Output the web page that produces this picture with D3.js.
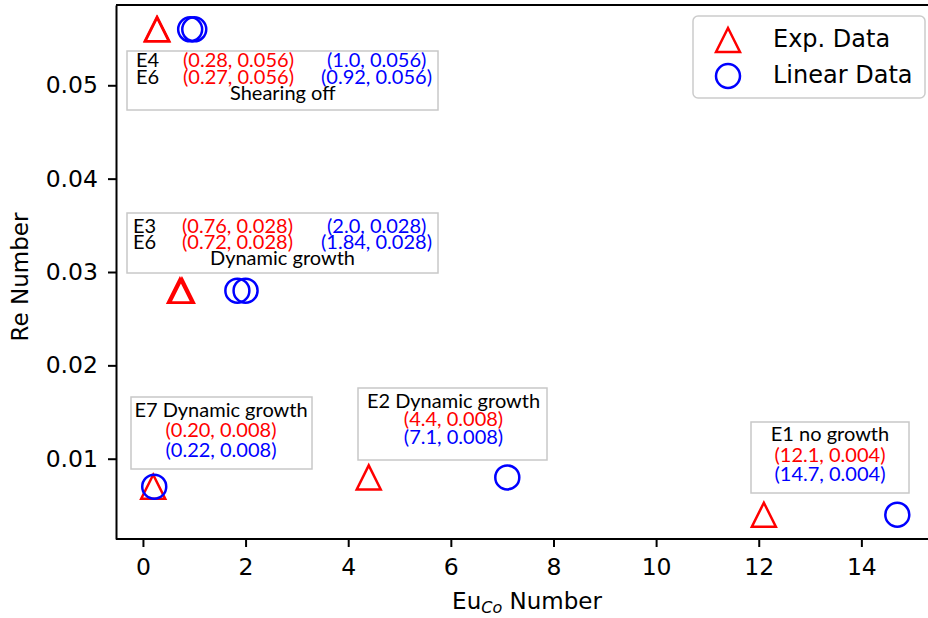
<!DOCTYPE html>
<html>
<head>
<meta charset="utf-8">
<script src="https://cdn.jsdelivr.net/npm/d3@7"></script>
<style>
  body { margin: 0; background: #fff; }
  svg { display: block; }
  .axis text { font-family: "DejaVu Sans", sans-serif; font-size: 23.5px; fill: #000; }
  .axis path, .axis line { stroke: #000; stroke-width: 2; }
  .note { font-family: Lato, "Open Sans", sans-serif; font-size: 20px; }
</style>
</head>
<body>
<svg id="chart" width="928" height="618"></svg>
<script>
// Data
const runs = ['E4', 'E6', 'E3', 'E6b', 'E7', 'E2', 'E1']
const expX = [0.28, 0.27, 0.76, 0.72, 0.20, 4.4, 12.1]
const expY = [0.056, 0.056, 0.028, 0.028, 0.007, 0.008, 0.004]
const linX = [1.0, 0.92, 2.0, 1.84, 0.22, 7.1, 14.7]
const linY = [0.056, 0.056, 0.028, 0.028, 0.007, 0.008, 0.004]
const xTicks = [0, 2, 4, 6, 8, 10, 12, 14]
const yTicks = [0.01, 0.02, 0.03, 0.04, 0.05]
const seriesNames = ['Exp. Data', 'Linear Data']

const red = '#ff0000'
const blue = '#0000ff'

const svg = d3.select('#chart')

// matplotlib-like 5% margins, right edge falls past the picture
const x = d3.scaleLinear().domain([-0.525, 15.425]).range([116, 934.5])
const y = d3.scaleLinear().domain([0.0014, 0.0586]).range([539, 5])

// frame
svg.append('line').attr('x1', 116).attr('x2', 928).attr('y1', 5).attr('y2', 5)
    .attr('stroke', '#000').attr('stroke-width', 2)

const xAxis = svg.append('g')
    .attr('class', 'axis')
    .attr('transform', 'translate(0,539)')
    .call(d3.axisBottom(x).tickValues(xTicks).tickFormat(d3.format('d')).tickSize(8).tickPadding(11).tickSizeOuter(0))
xAxis.select('path.domain').attr('d', 'M116,0H928')

svg.append('g')
    .attr('class', 'axis')
    .attr('transform', 'translate(116,0)')
    .call(d3.axisLeft(y).tickValues(yTicks).tickFormat(d3.format('.2f')).tickSize(8).tickPadding(10).tickSizeOuter(0))

// axis titles
const xt = svg.append('text')
    .attr('x', 527).attr('y', 609)
    .attr('text-anchor', 'middle')
    .style('font-family', '"DejaVu Sans", sans-serif').style('font-size', '23px')
xt.append('tspan').text('Eu')
xt.append('tspan').text('Co').style('font-style', 'italic').style('font-size', '16px').attr('dy', 4)
xt.append('tspan').text(' Number').attr('dy', -4)

svg.append('text')
    .attr('transform', 'translate(28,277) rotate(-90)')
    .attr('text-anchor', 'middle')
    .style('font-family', '"DejaVu Sans", sans-serif').style('font-size', '23px')
    .text('Re Number')

// markers
function triPath(h) { return `M0,${-h}L${h},${h}L${-h},${h}Z` }

const plot = svg.append('g')
plot.selectAll('path.exp')
  .data(runs.map((r, i) => ({ r, x: expX[i], y: expY[i] })))
  .join('path')
    .attr('class', 'exp')
    .attr('d', triPath(12))
    .attr('transform', d => `translate(${x(d.x)},${y(d.y)})`)
    .attr('fill', 'none').attr('stroke', red).attr('stroke-width', 2.5)

plot.selectAll('circle.lin')
  .data(runs.map((r, i) => ({ r, x: linX[i], y: linY[i] })))
  .join('circle')
    .attr('class', 'lin')
    .attr('cx', d => x(d.x)).attr('cy', d => y(d.y)).attr('r', 12)
    .attr('fill', 'none').attr('stroke', blue).attr('stroke-width', 2.5)

// annotation boxes
const notes = [
  { box: [127, 51, 311, 59], lines: [
    { t: 'E4', x: 136, y: 67, c: '#000' }, { t: '(0.28, 0.056)', x: 183, y: 67, c: red }, { t: '(1.0, 0.056)', x: 327, y: 67, c: blue },
    { t: 'E6', x: 136, y: 83.5, c: '#000' }, { t: '(0.27, 0.056)', x: 183, y: 83.5, c: red }, { t: '(0.92, 0.056)', x: 321, y: 83.5, c: blue },
    { t: 'Shearing off', x: 230, y: 100, c: '#000' } ] },
  { box: [127, 213, 311, 60], lines: [
    { t: 'E3', x: 133, y: 233, c: '#000' }, { t: '(0.76, 0.028)', x: 182, y: 233, c: red }, { t: '(2.0, 0.028)', x: 327, y: 233, c: blue },
    { t: 'E6', x: 133, y: 249, c: '#000' }, { t: '(0.72, 0.028)', x: 182, y: 249, c: red }, { t: '(1.84, 0.028)', x: 321, y: 249, c: blue },
    { t: 'Dynamic growth', x: 210, y: 265, c: '#000' } ] },
  { box: [131, 397, 181, 72], mid: 221, lines: [
    { t: 'E7 Dynamic growth', y: 417, c: '#000' }, { t: '(0.20, 0.008)', y: 437, c: red }, { t: '(0.22, 0.008)', y: 457, c: blue } ] },
  { box: [358, 388, 189, 72], mid: 453.5, lines: [
    { t: 'E2 Dynamic growth', y: 407.5, c: '#000' }, { t: '(4.4, 0.008)', y: 425.5, c: red }, { t: '(7.1, 0.008)', y: 443.5, c: blue } ] },
  { box: [751, 422, 158, 71], mid: 830, lines: [
    { t: 'E1 no growth', y: 441, c: '#000' }, { t: '(12.1, 0.004)', y: 461.5, c: red }, { t: '(14.7, 0.004)', y: 481, c: blue } ] }
]

notes.forEach(n => {
  const g = svg.append('g').attr('class', 'note')
  g.append('rect')
    .attr('x', n.box[0]).attr('y', n.box[1]).attr('width', n.box[2]).attr('height', n.box[3])
    .attr('fill', '#fff').attr('stroke', '#c8c8c8').attr('stroke-width', 1.5)
  g.selectAll('text')
    .data(n.lines)
    .join('text')
      .attr('x', d => d.x != null ? d.x : n.mid)
      .attr('y', d => d.y)
      .attr('text-anchor', d => d.x != null ? 'start' : 'middle')
      .attr('fill', d => d.c)
      .text(d => d.t)
})

// legend
const legend = svg.append('g').attr('transform', 'translate(693,16)')
legend.append('rect')
    .attr('width', 232).attr('height', 82).attr('rx', 5)
    .attr('fill', '#fff').attr('fill-opacity', 0.8)
    .attr('stroke', '#cccccc').attr('stroke-width', 1.5)
legend.append('path').attr('d', triPath(12)).attr('transform', 'translate(35,24)')
    .attr('fill', 'none').attr('stroke', red).attr('stroke-width', 2.5)
legend.append('circle').attr('cx', 35).attr('cy', 60).attr('r', 12)
    .attr('fill', 'none').attr('stroke', blue).attr('stroke-width', 2.5)
legend.selectAll('text.lab')
  .data(seriesNames)
  .join('text')
    .attr('class', 'lab')
    .attr('x', 80).attr('y', (d, i) => 31 + i * 36)
    .style('font-family', '"DejaVu Sans", sans-serif').style('font-size', '24px')
    .text(d => d)
</script>
</body>
</html>
